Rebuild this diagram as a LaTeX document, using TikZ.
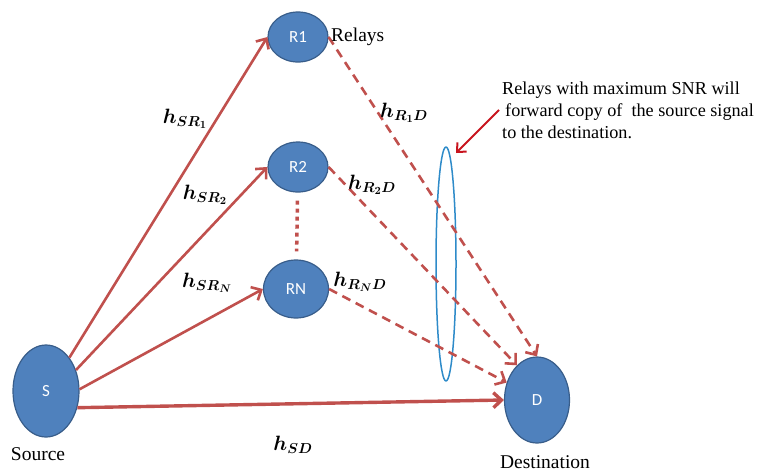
\documentclass[tikz,border=0pt]{standalone}
\usepackage{amsmath,amssymb,bm}
\usepackage{fontspec}
\setmainfont{Liberation Serif}
\newfontfamily\notefont{Liberation Serif}
\newfontfamily\stationfont{Carlito}
\usepackage{tikz}
\usetikzlibrary{arrows.meta,shapes.geometric}
\definecolor{link}{HTML}{C0504D}
\definecolor{stfill}{HTML}{4F81BD}
\definecolor{stline}{HTML}{385D8A}
\definecolor{ring}{HTML}{2E8BC9}
\definecolor{pointer}{HTML}{C8141E}
\tikzset{fig/.style={line join=round,>={Straight Barb[length=8pt,width=15pt]}},
  station/.style={ellipse,draw=stline,line width=1.2pt,fill=stfill,text=white,inner sep=0pt,font=\stationfont\fontsize{17}{17}\selectfont},
  note/.style={inner sep=0pt,font=\notefont\fontsize{19.5}{22.5}\selectfont},
  gain/.style={inner sep=0pt,font=\fontsize{21}{21}\selectfont},
  hop/.style={link,line width=2.6pt,->},
  fwd/.style={link,line width=2.6pt,dash pattern=on 9pt off 6pt,->}}
\begin{document}
\begin{tikzpicture}[fig,x=1pt,y=-1pt]
  \useasboundingbox(0,0)rectangle(768,475);
  \node[station,minimum width=66,minimum height=92](S)at(46,391){S};
  \node[station,minimum width=60,minimum height=50](R1)at(298,37){R1};
  \node[station,minimum width=60,minimum height=50](R2)at(298,167){R2};
  \node[station,minimum width=65,minimum height=58](RN)at(296,289){RN};
  \node[station,minimum width=65,minimum height=86](D)at(537,400){D};
  \node[draw=ring,line width=1.5pt,ellipse,minimum width=20,minimum height=234](group)at(446,264){};
  % source to relays and destination
  \draw[hop](S.55)--(R1.west);\draw[hop](S.35)--(R2.west);\draw[hop](S.3)--(RN.west);
  \draw[hop,line width=3.4pt](S.-28)--(D.west);
  % relays to destination
  \draw[fwd](R1.east)--(D.north);\draw[fwd](R2.east)--(D.120);\draw[fwd](RN.east)--(D.150);
  \draw[link,line width=3.5pt,dash pattern=on 4pt off 4pt,shorten <=8pt,shorten >=8pt](R2)--(RN);
  % texts
  \node[note,anchor=west](relays)at(331,37){Relays};
  \node[note](source)at(38,454){Source};
  \node[note](dest)at(545,462){Destination};
  \node[note,font=\notefont\fontsize{18.2}{22}\selectfont,align=left,anchor=west](remark)at(502,110){Relays with maximum SNR will\\\hspace{3pt}forward copy of \ the source signal\\to the destination.};
  \coordinate(aim)at(456,153);
  \draw[pointer,line width=2pt,-{Straight Barb[length=7pt,width=13pt]}]([xshift=-3pt]remark.west)--(aim);
  \node[gain](gSR1)at(185,119){$\bm{h_{SR_1}}$};
  \node[gain](gSR2)at(205,195){$\bm{h_{SR_2}}$};
  \node[gain](gSRN)at(207,283){$\bm{h_{SR_N}}$};
  \node[gain](gSD)at(293,445){$\bm{h_{SD}}$};
  \node[gain](gR1D)at(404,113){$\bm{h_{R_1D}}$};
  \node[gain](gR2D)at(372,185){$\bm{h_{R_2D}}$};
  \node[gain](gRND)at(360,282){$\bm{h_{R_ND}}$};
\end{tikzpicture}
\end{document}
